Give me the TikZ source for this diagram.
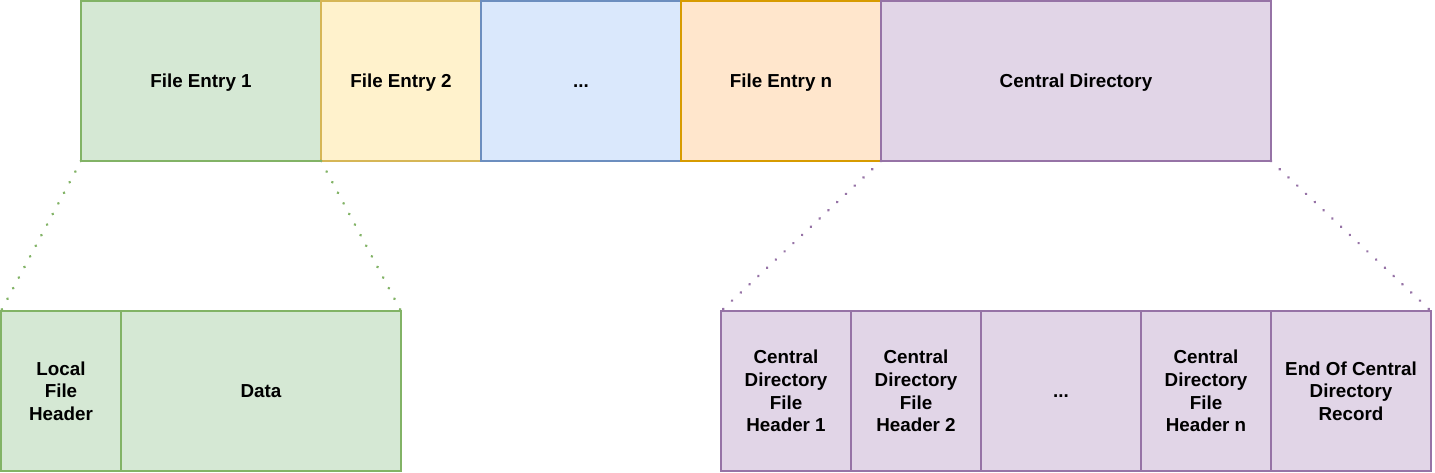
\documentclass[tikz,border=0pt]{standalone}
\usepackage{fontspec}
\setmainfont{Liberation Sans}
\definecolor{gfill}{HTML}{D5E8D4}\definecolor{gline}{HTML}{82B366}
\definecolor{yfill}{HTML}{FFF2CC}\definecolor{yline}{HTML}{D6B656}
\definecolor{bfill}{HTML}{DAE8FC}\definecolor{bline}{HTML}{6C8EBF}
\definecolor{ofill}{HTML}{FFE6CC}\definecolor{oline}{HTML}{D79B00}
\definecolor{pfill}{HTML}{E1D5E7}\definecolor{pline}{HTML}{9673A6}
\begin{document}
\begin{tikzpicture}[x=1pt,y=-1pt,
  box/.style={rectangle, line width=2.4pt, anchor=north west, inner sep=0pt, outer sep=0pt,
    align=center, font=\fontsize{18.8}{22.7}\selectfont\bfseries},
  one/.style={text height=13.4pt, text depth=0pt},
  gbox/.style={box, draw=gline, fill=gfill},
  ybox/.style={box, draw=yline, fill=yfill},
  bbox/.style={box, draw=bline, fill=bfill},
  obox/.style={box, draw=oline, fill=ofill},
  pbox/.style={box, draw=pline, fill=pfill},
  dots/.style={line width=3pt, line cap=round, dash pattern=on 0.01pt off 12pt}
]
\useasboundingbox (0,0) rectangle (1435,473);
% top row
\node[gbox, one, minimum width=240pt, minimum height=160pt] (fe1) at (81,1) {File Entry 1};
\node[ybox, one, minimum width=160pt, minimum height=160pt] (fe2) at (321,1) {File Entry 2};
\node[bbox, one, minimum width=200pt, minimum height=160pt] (fed) at (481,1) {...};
\node[obox, one, minimum width=200pt, minimum height=160pt] (fen) at (681,1) {File Entry n};
\node[pbox, one, minimum width=390pt, minimum height=160pt] (cd) at (881,1) {Central Directory};
% bottom left
\node[gbox, minimum width=120pt, minimum height=160pt] (lfh) at (1,311) {Local\\File\\Header};
\node[gbox, one, minimum width=280pt, minimum height=160pt] (data) at (121,311) {Data};
% bottom right
\node[pbox, minimum width=130pt, minimum height=160pt] (cd1) at (721,311) {Central\\Directory\\File\\Header 1};
\node[pbox, minimum width=130pt, minimum height=160pt] (cd2) at (851,311) {Central\\Directory\\File\\Header 2};
\node[pbox, one, minimum width=160pt, minimum height=160pt] (cdd) at (981,311) {...};
\node[pbox, minimum width=130pt, minimum height=160pt] (cdn) at (1141,311) {Central\\Directory\\File\\Header n};
\node[pbox, minimum width=160pt, minimum height=160pt] (eocd) at (1271,311) {End Of Central\\Directory\\Record};
% dotted connectors
\draw[dots, draw=gline] (fe1.south west) -- (lfh.north west);
\draw[dots, draw=gline] (fe1.south east) -- (data.north east);
\draw[dots, draw=pline] (cd.south west) -- (cd1.north west);
\draw[dots, draw=pline] (cd.south east) -- (eocd.north east);
\end{tikzpicture}
\end{document}
